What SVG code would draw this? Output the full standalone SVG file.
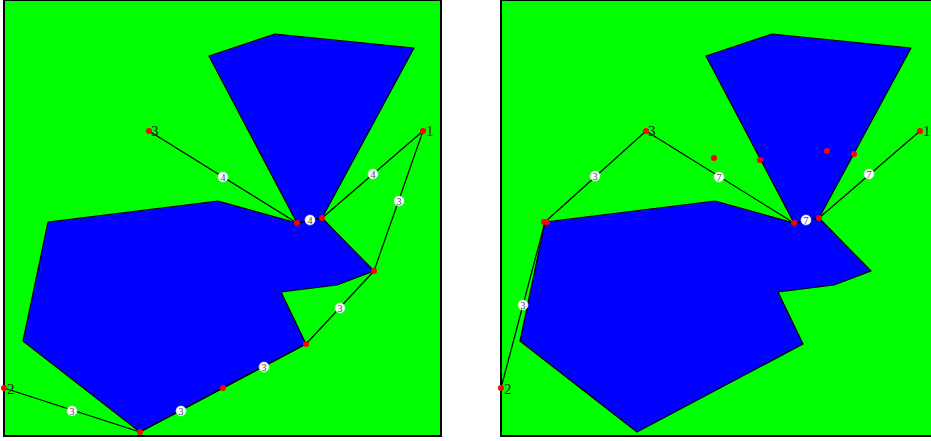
<svg xmlns="http://www.w3.org/2000/svg" width="931" height="441" viewBox="0 0 931 441">
<defs>
<style>
.panel{fill:#00ff00;stroke:#000;stroke-width:2}
.poly{fill:#0000ff;stroke:#000;stroke-width:1.2;stroke-linejoin:round}
.edge{stroke:#000;stroke-width:1.2;fill:none}
.dot{fill:#ff0000}
.lbl{fill:#fff;stroke:#ddd;stroke-width:0.6}
.lt{font-family:"Liberation Serif",serif;font-size:10px;fill:#444;text-anchor:middle}
.nt{font-family:"Liberation Serif",serif;font-size:15px;fill:#222}
</style>
</defs>
<g id="left-panel">
<rect class="panel" x="4" y="0" width="437" height="436"/>
<polygon class="poly" points="209,56 275,34 414,48 322,218 297,223"/>
<polygon class="poly" points="48,222 218,201 297,223 322,218 374,271 337,285 281,292 306,344 140,432 23,341"/>
</g>
<g id="right-panel">
<rect class="panel" x="501" y="0" width="437" height="436"/>
<polygon class="poly" points="706,56 772,34 911,48 819,218 794,223"/>
<polygon class="poly" points="545,222 715,201 794,223 819,218 871,271 834,285 778,292 803,344 637,432 520,341"/>
</g>
<g id="connectors">
<line class="edge" x1="149" y1="131" x2="297" y2="223"/>
<line class="edge" x1="297" y1="223" x2="322" y2="218"/>
<line class="edge" x1="322" y1="218" x2="423" y2="131"/>
<line class="edge" x1="423" y1="131" x2="374" y2="271"/>
<line class="edge" x1="374" y1="271" x2="306" y2="344"/>
<line class="edge" x1="306" y1="344" x2="223" y2="388"/>
<line class="edge" x1="223" y1="388" x2="140" y2="432"/>
<line class="edge" x1="140" y1="432" x2="4" y2="388"/>
<line class="edge" x1="920" y1="131" x2="819" y2="218"/>
<line class="edge" x1="819" y1="218" x2="794" y2="223"/>
<line class="edge" x1="794" y1="223" x2="646" y2="131"/>
<line class="edge" x1="646" y1="131" x2="545" y2="222"/>
<line class="edge" x1="545" y1="222" x2="501" y2="388"/>
<g id="edge-labels">
<circle class="lbl" cx="223" cy="177" r="5"/><text class="lt" x="223" y="180.5">4</text>
<circle class="lbl" cx="310" cy="220" r="5"/><text class="lt" x="310" y="223.5">4</text>
<circle class="lbl" cx="373" cy="174" r="5"/><text class="lt" x="373" y="177.5">4</text>
<circle class="lbl" cx="399" cy="201" r="5"/><text class="lt" x="399" y="204.5">3</text>
<circle class="lbl" cx="340" cy="308" r="5"/><text class="lt" x="340" y="311.5">3</text>
<circle class="lbl" cx="264" cy="367" r="5"/><text class="lt" x="264" y="370.5">3</text>
<circle class="lbl" cx="181" cy="411" r="5"/><text class="lt" x="181" y="414.5">3</text>
<circle class="lbl" cx="72" cy="411" r="5"/><text class="lt" x="72" y="414.5">3</text>
<circle class="lbl" cx="869" cy="174" r="5"/><text class="lt" x="869" y="177.5">7</text>
<circle class="lbl" cx="806" cy="220" r="5"/><text class="lt" x="806" y="223.5">7</text>
<circle class="lbl" cx="719" cy="177" r="5"/><text class="lt" x="719" y="180.5">7</text>
<circle class="lbl" cx="595" cy="176" r="5"/><text class="lt" x="595" y="179.5">3</text>
<circle class="lbl" cx="523" cy="305" r="5"/><text class="lt" x="523" y="308.5">3</text>
</g>
</g>
<g id="node-1-left"><circle class="dot" cx="423" cy="131" r="3"/><text class="nt" x="426" y="136">1</text></g>
<g id="node-2-left"><circle class="dot" cx="4" cy="388" r="3"/><text class="nt" x="7" y="394">2</text></g>
<g id="node-3-left"><circle class="dot" cx="149" cy="131" r="3"/><text class="nt" x="151" y="136">3</text></g>
<g id="points-left">
<circle class="dot" cx="297" cy="223" r="3"/>
<circle class="dot" cx="322" cy="218" r="3"/>
<circle class="dot" cx="374" cy="271" r="3"/>
<circle class="dot" cx="306" cy="344" r="3"/>
<circle class="dot" cx="223" cy="388" r="3"/>
<circle class="dot" cx="140" cy="432" r="3"/>
</g>
<g id="node-1-right"><circle class="dot" cx="920" cy="131" r="3"/><text class="nt" x="923" y="136">1</text></g>
<g id="node-2-right"><circle class="dot" cx="501" cy="388" r="3"/><text class="nt" x="504" y="394">2</text></g>
<g id="node-3-right"><circle class="dot" cx="646" cy="131" r="3"/><text class="nt" x="648" y="136">3</text></g>
<g id="points-right">
<circle class="dot" cx="794" cy="223" r="3"/>
<circle class="dot" cx="819" cy="218" r="3"/>
<circle class="dot" cx="544" cy="222" r="3"/>
<circle class="dot" cx="547" cy="222" r="3"/>
<circle class="dot" cx="714" cy="158" r="3"/>
<circle class="dot" cx="760" cy="160" r="3"/>
<circle class="dot" cx="827" cy="151" r="3"/>
<circle class="dot" cx="854" cy="154" r="3"/>
</g>
</svg>
